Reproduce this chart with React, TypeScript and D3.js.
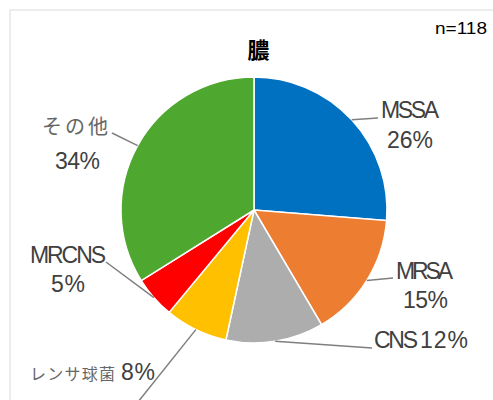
import React from 'react';
import * as d3 from 'd3';

// data (n=118)
const categories = ['MSSA', 'MRSA', 'CNS', 'レンサ球菌', 'MRCNS', 'その他'];
const counts = [31, 18, 14, 9, 6, 40];
const percentLabels = ['26%', '15%', '12%', '8%', '5%', '34%'];
const colors = ['#0070C0', '#ED7D31', '#ADADAD', '#FFC000', '#FF0000', '#4EA72E'];
const title = '膿';
const totalLabel = 'n=118';

const W = 493;
const H = 400;
const cx = 254;
const cy = 210;
const radius = 133;

// where each leader line ends, and where its text sits
const labelLayout = [
  { end: [378, 118], name: { x: 410, y: 118, len: 58, anchor: 'middle' }, pct: { x: 410, y: 148, len: 46, anchor: 'middle' } },
  { end: [393, 278], name: { x: 424.5, y: 279, len: 57, anchor: 'middle' }, pct: { x: 425.5, y: 308, len: 45, anchor: 'middle' } },
  { end: [372, 348], name: { x: 374, y: 348, len: 44, anchor: 'start' }, pct: { x: 420, y: 348, len: 48, anchor: 'start' } },
  { end: [138, 402], name: { x: 30, y: 380, len: 85, anchor: 'start', jp: true, size: 16 }, pct: { x: 121, y: 380, len: 34, anchor: 'start' } },
  { end: [106, 262], name: { x: 68, y: 263, len: 76, anchor: 'middle' }, pct: { x: 68, y: 292, len: 34, anchor: 'middle' } },
  { end: [112, 133], name: { x: 75, y: 134, len: 66, anchor: 'middle', jp: true, size: 20 }, pct: { x: 77.5, y: 169, len: 45, anchor: 'middle' } },
];

const latinFont = "'Liberation Sans', Arial, sans-serif";
const jpFont = "'Noto Sans CJK JP', sans-serif";

const App: React.FC = () => {
  const pie = d3
    .pie<number>()
    .sort(null)
    .value((d) => d)(counts);
  const arc = d3.arc<d3.PieArcDatum<number>>().innerRadius(0).outerRadius(radius);
  const edge = d3.arc<d3.PieArcDatum<number>>().innerRadius(radius).outerRadius(radius);

  return (
    <svg
      width={W}
      height={H}
      style={{ position: 'absolute', left: 0, top: 0, background: '#fff' }}
    >
      <rect x={10} y={10} width={560} height={460} fill="#fff" stroke="#d9d9d9" strokeWidth={1} />
      <text
        x={258.5}
        y={58}
        textAnchor="middle"
        fontFamily={jpFont}
        fontWeight="bold"
        fontSize={22}
        fill="#000"
      >
        {title}
      </text>
      <text
        x={435}
        y={34}
        fontFamily={latinFont}
        fontSize={16}
        textLength={52}
        lengthAdjust="spacingAndGlyphs"
        fill="#000"
      >
        {totalLabel}
      </text>
      <g transform={`translate(${cx},${cy})`}>
        {pie.map((d, i) => (
          <path key={categories[i]} d={arc(d) || ''} fill={colors[i]} stroke="#fff" strokeWidth={1.5} />
        ))}
      </g>
      {pie.map((d, i) => {
        const [px, py] = edge.centroid(d);
        const lay = labelLayout[i];
        return (
          <line
            key={'l' + i}
            x1={cx + px}
            y1={cy + py}
            x2={lay.end[0]}
            y2={lay.end[1]}
            stroke="#7f7f7f"
            strokeWidth={1.5}
          />
        );
      })}
      {categories.map((c, i) => {
        const lay = labelLayout[i];
        const n = lay.name as any;
        return (
          <g key={'t' + i}>
            <text
              x={n.x}
              y={n.y}
              textAnchor={n.anchor}
              fontFamily={n.jp ? jpFont : latinFont}
              fontSize={n.jp ? n.size : 23}
              textLength={n.len}
              lengthAdjust="spacing"
              fill={n.jp ? '#666666' : '#404040'}
            >
              {c}
            </text>
            <text
              x={lay.pct.x}
              y={lay.pct.y}
              textAnchor={lay.pct.anchor}
              fontFamily={latinFont}
              fontSize={23}
              textLength={lay.pct.len}
              lengthAdjust="spacing"
              fill="#404040"
            >
              {percentLabels[i]}
            </text>
          </g>
        );
      })}
    </svg>
  );
};

export default App;
